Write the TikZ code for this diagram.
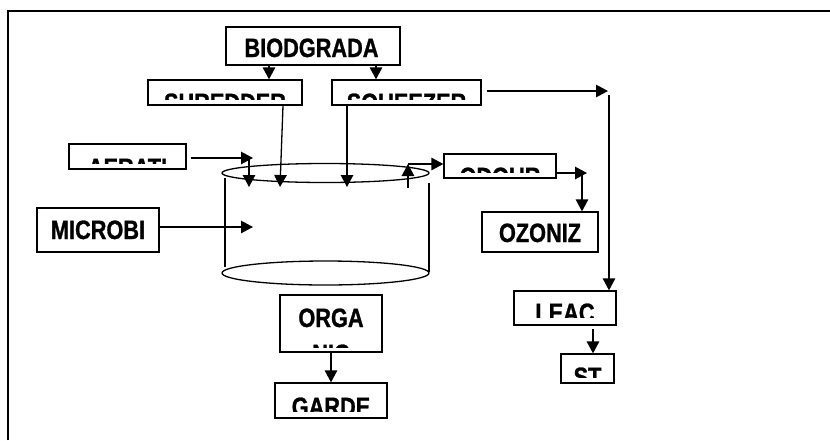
\documentclass[tikz,border=0pt]{standalone}
\usepackage{fontspec}
\newfontfamily\nar[FakeStretch=0.82,FakeBold=1]{Liberation Sans}
\usetikzlibrary{arrows.meta}
\tikzset{
  box/.style={draw, line width=1.3pt, inner sep=0pt, rectangle},
  txt/.style={inner sep=0pt, anchor=base, font=\nar\bfseries\fontsize{26.5pt}{36pt}\selectfont},
  arr/.style={line width=1.3pt, -{Triangle[length=12pt,width=12.5pt]}},
  ln/.style={line width=1.3pt},
}
\begin{document}
\begin{tikzpicture}[x=1pt,y=-1pt]
\useasboundingbox (0,0) rectangle (830,440);
% frame
\draw[line width=1.6pt] (8,440) -- (8,11) -- (830,11);

% boxes
\node[box, minimum width=174pt, minimum height=38pt] (bio) at (313,46) {};
\node[box, minimum width=154pt, minimum height=25pt] (shred) at (225,92.5) {};
\node[box, minimum width=149pt, minimum height=25pt] (squeeze) at (406.5,92.5) {};
\node[box, minimum width=117pt, minimum height=25pt] (aer) at (127.5,156.5) {};
\node[box, minimum width=112pt, minimum height=24pt] (odour) at (500,166) {};
\node[box, minimum width=122pt, minimum height=44pt] (micro) at (98,230) {};
\node[box, minimum width=116pt, minimum height=40pt] (ozon) at (540,232) {};
\node[box, minimum width=102pt, minimum height=34pt] (leac) at (565,308) {};
\node[box, minimum width=53pt, minimum height=29pt] (st) at (587.5,368.5) {};
\node[box, minimum width=102pt, minimum height=57pt] (orga) at (331,323.5) {};
\node[box, minimum width=112pt, minimum height=35pt] (garde) at (331,400.5) {};

% texts
\node[txt] (bioT) at (311.5,57) {BIODGRADA};
\begin{scope}\clip (149,81) rectangle (301,99);
  \node[txt] (shredT) at (225,112) {SHREDDER};\end{scope}
\begin{scope}\clip (333,81) rectangle (480,99);
  \node[txt] (squeezeT) at (406.5,112) {SQUEEZER};\end{scope}
\begin{scope}\clip (70,145) rectangle (185,163);
  \node[txt] (aerT) at (127.5,177) {AERATI};\end{scope}
\begin{scope}\clip (445,155) rectangle (555,172);
  \node[txt] (odourT) at (500,186) {ODOUR};\end{scope}
\node[txt] (microT) at (98,239) {MICROBI};
\node[txt] (ozonT) at (540,242) {OZONIZ};
\begin{scope}\clip (515,292) rectangle (615,317.5);
  \node[txt] (leacT) at (565,322) {LEAC};\end{scope}
\begin{scope}\clip (562,355) rectangle (613,377);
  \node[txt] (stT) at (587.5,386) {ST};\end{scope}
\node[txt] (orgaT) at (331,327) {ORGA};
\begin{scope}\clip (281,296) rectangle (381,347);
  \node[txt] (nicT) at (331,363) {NIC};\end{scope}
\begin{scope}\clip (276,384) rectangle (386,411.5);
  \node[txt] (gardeT) at (331,416) {GARDE};\end{scope}

% tank
\draw[ln] (325.5,173) ellipse [x radius=103.5pt, y radius=9.5pt];
\draw[ln] (325.5,273) ellipse [x radius=103.5pt, y radius=12pt];
\draw[ln] (225,178) -- (225,267);
\draw[ln] (429,183) -- (429,272);

% coordinates
\coordinate (a1) at (253,158);
\coordinate (a2) at (249,158);
\coordinate (t1) at (249,187);
\coordinate (t2) at (280,187);
\coordinate (t3) at (347,187);
\coordinate (m1) at (253,227);
\coordinate (o1) at (408,188);
\coordinate (o2) at (408,164);
\coordinate (z1) at (587,173);
\coordinate (z2) at (582,173);
\coordinate (q1) at (608,91);
\coordinate (q2) at (609,95);
\coordinate (l1) at (593,329);

% connectors
\draw[arr] ([xshift=-44pt]bio.south) -- ([xshift=-44pt]bio.south |- shred.north);
\draw[arr] ([xshift=63pt]bio.south) -- ([xshift=63pt]bio.south |- squeeze.north);
\draw[arr] ([xshift=58pt]shred.south) -- (t2);
\draw[arr] (squeeze.south -| t3) -- (t3);
\draw[arr, shorten <=4pt] (aer.east |- a1) -- (a1);
\draw[arr] (a2) -- (t1);
\draw[arr] (micro.east |- m1) -- (m1);
\draw[arr] (o1) -- (o2);
\draw[arr] (o2) -- (o2 -| odour.west);
\draw[arr] (odour.east |- z1) -- (z1);
\draw[arr] (z2) -- (z2 |- ozon.north);
\draw[arr, shorten <=5pt] (squeeze.east |- q1) -- (q1);
\draw[arr] (q2) -- (q2 |- leac.north);
\draw[arr] (l1) -- (l1 |- st.north);
\draw[arr] (orga.south) -- (garde.north);
\end{tikzpicture}
\end{document}
